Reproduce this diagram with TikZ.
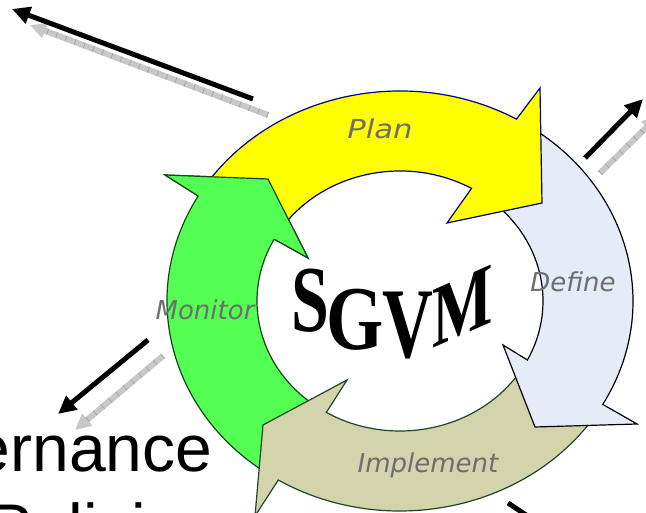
\documentclass[tikz,border=0pt]{standalone}
\usepackage{fontspec}
\setmainfont{Liberation Serif}
\newfontfamily\lblfont{DejaVu Sans}
\newfontfamily\arialfont{Liberation Sans}
\newfontfamily\wordfont{Liberation Serif}
\usetikzlibrary{arrows.meta}
\definecolor{planfill}{HTML}{FFFF00}
\definecolor{plandraw}{HTML}{000080}
\definecolor{deffill}{HTML}{E5EBF7}
\definecolor{impfill}{HTML}{D3D3AC}
\definecolor{impdraw}{HTML}{1E4628}
\definecolor{monfill}{HTML}{52FF52}
\definecolor{mondraw}{HTML}{144614}
\definecolor{lblgray}{HTML}{6E6E6E}
\definecolor{arrgray}{HTML}{C8C8C8}
\definecolor{hatchgray}{HTML}{A4A4A4}
\tikzset{
  ring/.style={line width=1.2pt, line join=miter},
  planarrow/.style={ring, fill=planfill, draw=plandraw},
  defarrow/.style={ring, fill=deffill, draw=black},
  imparrow/.style={ring, fill=impfill, draw=impdraw},
  monarrow/.style={ring, fill=monfill, draw=mondraw},
  lbl/.style={inner sep=0pt, anchor=base, text=lblgray, font=\lblfont\itshape\fontsize{26}{30}\selectfont},
  wordletter/.style={inner sep=0pt, anchor=base, font=\wordfont\bfseries\fontsize{80}{80}\selectfont},
  bigtext/.style={inner sep=0pt, font=\arialfont\fontsize{66}{76}\selectfont},
  blkarrow/.style={line width=5pt, draw=black, -{Triangle[length=18pt,width=17pt]}},
  gryarrow/.style={line width=6pt, draw=arrgray, -{Triangle[length=16pt,width=15pt]}},
  gryhatch/.style={line width=6pt, draw=hatchgray, dash pattern=on 0.8pt off 9pt, shorten >=15pt},
}
\begin{document}
\begin{tikzpicture}[x=1pt,y=1pt]
\useasboundingbox (0,0) rectangle (646,513);
\clip (0,0) rectangle (646,513);
\fill[white] (0,0) rectangle (646,513);

% straight arrows
\coordinate (a1s) at (253,414); \coordinate (a1e) at (12,504);
\coordinate (g1s) at (268,398); \coordinate (g1e) at (30,488);
\coordinate (a2s) at (585,355); \coordinate (a2e) at (643,414);
\coordinate (g2s) at (600,340); \coordinate (g2e) at (658,397);
\coordinate (a3s) at (148,173); \coordinate (a3e) at (58,99);
\coordinate (g3s) at (163,157); \coordinate (g3e) at (75,83);
\coordinate (a4s) at (508,10);  \coordinate (a4e) at (550,-18);
\draw[gryarrow] (g1s) -- (g1e);
\draw[gryhatch] (g1s) -- (g1e);
\draw[blkarrow] (a1s) -- (a1e);
\draw[gryarrow] (g2s) -- (g2e);
\draw[gryhatch] (g2s) -- (g2e);
\draw[blkarrow] (a2s) -- (a2e);
\draw[gryarrow] (g3s) -- (g3e);
\draw[gryhatch] (g3s) -- (g3e);
\draw[blkarrow] (a3s) -- (a3e);
\draw[blkarrow] (a4s) -- (a4e);

% cycle of arrows
\begin{scope}[shift={(400,212)}]
% Monitor
\path[monarrow] (235:233pt and 210pt)
  arc[start angle=235, end angle=150, x radius=233pt, y radius=210pt]
  -- (-235,126) -- (-132,122) -- (-92,43) -- (151.6:143pt and 130pt)
  arc[start angle=151.6, end angle=235, x radius=143pt, y radius=130pt] -- cycle;
% Implement
\path[imparrow] (-32:233pt and 210pt)
  arc[start angle=-32, end angle=-121.5, x radius=233pt, y radius=210pt]
  -- (-145,-215) -- (-137,-124) -- (-53,-79) -- (-121:143pt and 130pt)
  arc[start angle=-121, end angle=-32, x radius=143pt, y radius=130pt] -- cycle;
% Define
\path[defarrow] (56:233pt and 210pt)
  arc[start angle=56, end angle=-29.5, x radius=233pt, y radius=210pt]
  -- (237,-123) -- (135,-126) -- (103,-44) -- (-27:143pt and 130pt)
  arc[start angle=-27, end angle=56, x radius=143pt, y radius=130pt] -- cycle;
% Plan
\path[planarrow] (147:233pt and 210pt)
  arc[start angle=147, end angle=60, x radius=233pt, y radius=210pt]
  -- (140,213) -- (142,98) -- (47,78) -- (60:143pt and 130pt)
  arc[start angle=60, end angle=147, x radius=143pt, y radius=130pt] -- cycle;
% Monitor head on top of Plan tail
\fill[monfill] (150:233pt and 210pt) -- (-235,126) -- (-132,122) -- (-92,43) -- (151.6:143pt and 130pt) -- cycle;
\draw[ring, draw=mondraw] (150:233pt and 210pt) -- (-235,126) -- (-132,122) -- (-92,43) -- (151.6:143pt and 130pt);
\end{scope}

% labels
\node[lbl, xscale=1.18] (plan) at (380,374) {Plan};
\node[lbl] (define) at (573,221) {Define};
\node[lbl] (monitor) at (205,193) {Monitor};
\node[lbl] (implement) at (428,40) {Implement};

% SGVM word art
\node[wordletter, xscale=0.85, yscale=1.18] (ls) at (310,181) {S};
\node[wordletter, xscale=0.92, yscale=1.14] (lg) at (355,163) {G};
\node[wordletter, xscale=0.88, yscale=1.25] (lv) at (407.5,155) {V};
\node[wordletter, xscale=0.8, yscale=1.1, yslant=0.32] (lm) at (463,178) {M};

% cut-off slide text
\node[bigtext, anchor=base east] (gov) at (212.6,41) {ernance};
\node[bigtext, anchor=base west] (pol) at (-12,-38) {Policies};
\end{tikzpicture}
\end{document}
